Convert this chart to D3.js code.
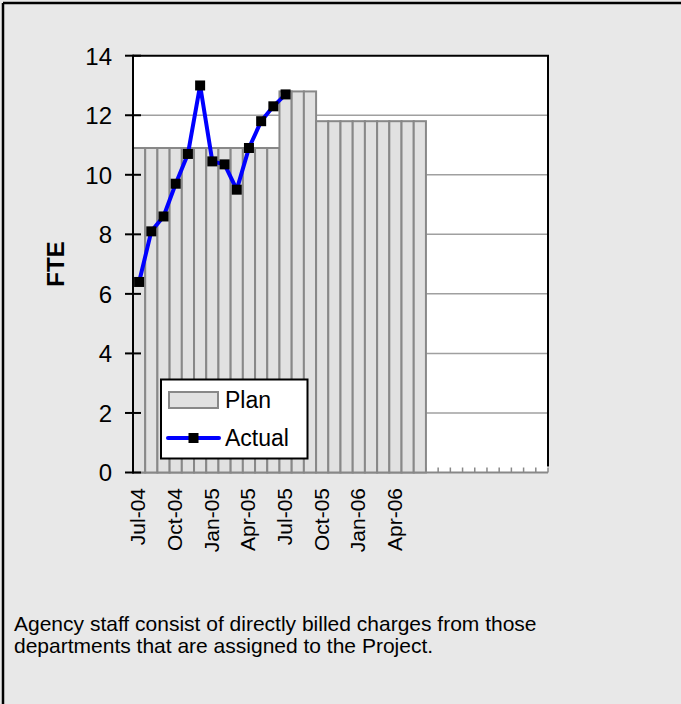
<!DOCTYPE html>
<html>
<head>
<meta charset="utf-8">
<script src="https://cdn.jsdelivr.net/npm/d3@7"></script>
<style>
  html, body { margin: 0; padding: 0; background: #e8e8e8; }
  svg { display: block; font-family: Arial, "Liberation Sans", sans-serif; }
</style>
</head>
<body>
<svg id="chart" width="681" height="704"></svg>
<script>
// ---- data ----
const months = ["Jul-04","Aug-04","Sep-04","Oct-04","Nov-04","Dec-04","Jan-05","Feb-05","Mar-05","Apr-05","May-05","Jun-05",
  "Jul-05","Aug-05","Sep-05","Oct-05","Nov-05","Dec-05","Jan-06","Feb-06","Mar-06","Apr-06","May-06","Jun-06",
  "Jul-06","Aug-06","Sep-06","Oct-06","Nov-06","Dec-06","Jan-07","Feb-07","Mar-07","Apr-07"];
const planValues = [10.9,10.9,10.9,10.9,10.9,10.9,10.9,10.9,10.9,10.9,10.9,10.9,
  12.8,12.8,12.8,11.8,11.8,11.8,11.8,11.8,11.8,11.8,11.8,11.8];
const actualValues = [6.4,8.1,8.6,9.7,10.7,13.0,10.45,10.35,9.5,10.9,11.8,12.3,12.7];
const tickLabels = ["Jul-04","Oct-04","Jan-05","Apr-05","Jul-05","Oct-05","Jan-06","Apr-06"];
const yTicks = [0,2,4,6,8,10,12,14];
const captionLines = ["Agency staff consist of directly billed charges from those",
  "departments that are assigned to the Project."];

// ---- layout ----
const svg = d3.select("#chart");
const W = 681, H = 704;
const pLeft = 133, pRight = 548, pTop = 55.7, pBottom = 472.5;

svg.append("rect").attr("x",0).attr("y",0).attr("width",W).attr("height",H).attr("fill","#e8e8e8");
// outer frame (top and left visible)
svg.append("line").attr("x1",3).attr("x2",W).attr("y1",3).attr("y2",3).attr("stroke","#000").attr("stroke-width",2.5);
svg.append("line").attr("x1",3).attr("x2",3).attr("y1",3).attr("y2",H).attr("stroke","#000").attr("stroke-width",2.5);

const x = d3.scaleBand().domain(months).range([pLeft, pRight]).padding(0);
const y = d3.scaleLinear().domain([0,14]).range([pBottom, pTop]);

// plot area
svg.append("rect").attr("x",pLeft).attr("y",pTop).attr("width",pRight-pLeft).attr("height",pBottom-pTop).attr("fill","#fff");

// gridlines
svg.append("g").selectAll("line").data(yTicks.filter(d => d > 0 && d < 14)).join("line")
  .attr("x1",pLeft).attr("x2",pRight).attr("y1",d => y(d)).attr("y2",d => y(d))
  .attr("stroke","#a0a0a0").attr("stroke-width",1.5);

// x axis baseline and category ticks (inside)
svg.append("line").attr("x1",pLeft).attr("x2",pRight).attr("y1",pBottom).attr("y2",pBottom)
  .attr("stroke","#888").attr("stroke-width",2);
svg.append("g").selectAll("line").data(months).join("line")
  .attr("x1",d => x(d) + x.bandwidth()).attr("x2",d => x(d) + x.bandwidth())
  .attr("y1",pBottom).attr("y2",pBottom - 5)
  .attr("stroke","#888").attr("stroke-width",1.5);

// bars
svg.append("g").selectAll("rect").data(planValues).join("rect")
  .attr("x",(d,i) => x(months[i]))
  .attr("y",d => y(d))
  .attr("width",x.bandwidth())
  .attr("height",d => pBottom - y(d))
  .attr("fill","#e1e1e1").attr("stroke","#888").attr("stroke-width",2);

// plot frame: top and right
svg.append("line").attr("x1",pLeft).attr("x2",pRight+1).attr("y1",pTop).attr("y2",pTop).attr("stroke","#000").attr("stroke-width",2);
svg.append("line").attr("x1",pRight).attr("x2",pRight).attr("y1",pTop).attr("y2",pBottom-6).attr("stroke","#000").attr("stroke-width",2);

// y axis
const yAxis = d3.axisLeft(y).tickValues(yTicks).tickSize(0).tickFormat(d3.format("d"));
const yg = svg.append("g").attr("transform",`translate(${pLeft},0)`).call(yAxis);
yg.select(".domain").remove();
yg.selectAll("text").attr("x",-21).attr("dy","0.35em").attr("font-size",24).attr("fill","#000")
  .attr("font-family","Arial, 'Liberation Sans', sans-serif");
svg.append("g").selectAll("line").data(yTicks).join("line")
  .attr("x1",pLeft-8).attr("x2",pLeft+8).attr("y1",d => y(d)).attr("y2",d => y(d))
  .attr("stroke","#000").attr("stroke-width",2);
svg.append("line").attr("x1",pLeft).attr("x2",pLeft).attr("y1",pTop-1).attr("y2",pBottom+1)
  .attr("stroke","#000").attr("stroke-width",2);

// x labels
svg.append("g").selectAll("text").data(tickLabels).join("text")
  .attr("transform",d => `translate(${x(d) + x.bandwidth()/2 - 1},488) rotate(-90)`)
  .attr("text-anchor","end").attr("dy","0.35em")
  .attr("font-size",21).attr("fill","#000").text(d => d);

// y label
svg.append("text").attr("transform","translate(56,264) rotate(-90)")
  .attr("text-anchor","middle").attr("dy","0.35em")
  .attr("font-size",24).attr("font-weight","bold").text("FTE");

// actual line
const line = d3.line().x((d,i) => x(months[i]) + x.bandwidth()/2).y(d => y(d));
svg.append("path").datum(actualValues).attr("d",line)
  .attr("fill","none").attr("stroke","#0000ff").attr("stroke-width",4).attr("stroke-linejoin","round");
const ms = 10;
svg.append("g").selectAll("rect").data(actualValues).join("rect")
  .attr("x",(d,i) => x(months[i]) + x.bandwidth()/2 - ms/2)
  .attr("y",d => y(d) - ms/2).attr("width",ms).attr("height",ms).attr("fill","#000");

// legend
const lg = svg.append("g");
lg.append("rect").attr("x",161).attr("y",379.5).attr("width",146.5).attr("height",79)
  .attr("fill","#fff").attr("stroke","#000").attr("stroke-width",2);
lg.append("rect").attr("x",169).attr("y",392).attr("width",49).attr("height",16)
  .attr("fill","#e1e1e1").attr("stroke","#888").attr("stroke-width",2);
lg.append("text").attr("x",225).attr("y",408).attr("font-size",23).text("Plan");
lg.append("line").attr("x1",168).attr("x2",219).attr("y1",438).attr("y2",438)
  .attr("stroke","#0000ff").attr("stroke-width",4).attr("stroke-linecap","round");
lg.append("rect").attr("x",193.5-ms/2).attr("y",438-ms/2).attr("width",ms).attr("height",ms).attr("fill","#000");
lg.append("text").attr("x",225).attr("y",446).attr("font-size",23).text("Actual");

// caption
svg.append("g").selectAll("text").data(captionLines).join("text")
  .attr("x",14).attr("y",(d,i) => 631 + i*22)
  .attr("font-size",21).attr("fill","#000").text(d => d);
</script>
</body>
</html>
